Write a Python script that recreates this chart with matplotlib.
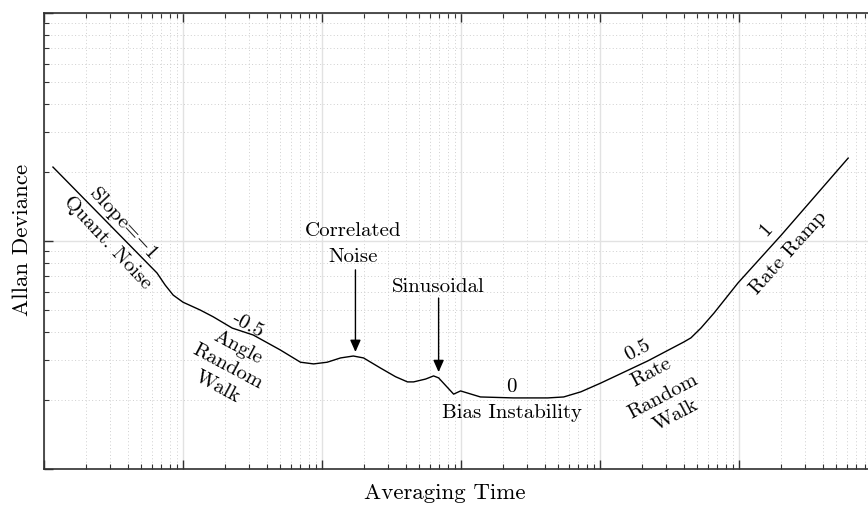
import matplotlib
matplotlib.use("Agg")
import matplotlib.pyplot as plt
import numpy as np
from matplotlib.ticker import LogLocator, NullFormatter

plt.rcParams["font.family"] = ["cmr10", "DejaVu Serif"]
plt.rcParams["mathtext.fontset"] = "cm"
plt.rcParams["axes.unicode_minus"] = False

# ── data ─────────────────────────────────────────────────────────────────────
tau = [1.16, 6.5, 7.44, 8.5, 10.0, 13.3, 16.5, 22.6, 32, 50, 70, 87, 109,
       136, 168, 199, 264, 338, 412, 456, 556, 635, 690, 885, 993, 1380,
       2390, 4210, 5480, 7280, 10100, 22100, 40200, 45100, 53200, 66100,
       98400, 201000, 610000]
adev = [0.211, 0.0724, 0.0641, 0.0579, 0.0539, 0.0498, 0.0465, 0.0415,
        0.0387, 0.0333, 0.0294, 0.0289, 0.0294, 0.0307, 0.0313, 0.0307,
        0.0277, 0.0254, 0.0241, 0.0241, 0.0248, 0.0256, 0.0251, 0.0213,
        0.0220, 0.0207, 0.0205, 0.0205, 0.0207, 0.0218, 0.0238, 0.0298,
        0.0361, 0.0376, 0.0415, 0.0483, 0.0655, 0.106, 0.231]

# (text, x, y, rotation)
labels = [
    ("Slope=$-$1",   3.71,   0.120,  -47),
    ("Quant. Noise", 2.84,   0.098,  -47),
    ("-0.5",         29.5,   0.0428, -28),
    ("Angle",        25.0,   0.0343, -28),
    ("Random",       20.8,   0.0280, -28),
    ("Walk",         17.6,   0.0229, -28),
    ("Correlated",   168,    0.1106, 0),
    ("Noise",        168,    0.0851, 0),
    ("Sinusoidal",   690,    0.0628, 0),
    ("0",            2317,   0.0229, 0),
    ("Bias Instability", 2317, 0.0176, 0),
    ("0.5",          18700,  0.0333, 28),
    ("Rate",         23200,  0.0264, 28),
    ("Random",       28300,  0.0207, 28),
    ("Walk",         35200,  0.0173, 28),
    ("1",            156700, 0.1116, 48),
    ("Rate Ramp",    225000, 0.0886, 48),
]

# (x, y_start, y_tip)
arrows = [
    (174, 0.0747, 0.0326),
    (690, 0.0562, 0.0266),
]

# ── plot ─────────────────────────────────────────────────────────────────────
fig = plt.figure(figsize=(8.68, 5.05), dpi=100)
ax = fig.add_axes([44 / 868, 36 / 505, 834 / 868, 456 / 505])

ax.plot(tau, adev, color="black", lw=1.0)
ax.set_xscale("log")
ax.set_yscale("log")
ax.set_xlim(1, 1e6)
ax.set_ylim(1e-2, 1)

ax.xaxis.set_minor_locator(LogLocator(base=10, subs=np.arange(2, 10)))
ax.yaxis.set_minor_locator(LogLocator(base=10, subs=np.arange(2, 10)))
ax.xaxis.set_minor_formatter(NullFormatter())
ax.yaxis.set_minor_formatter(NullFormatter())
ax.tick_params(which="both", direction="in", top=True, right=False,
               labelleft=False, labelbottom=False, color="#303030")
ax.tick_params(which="major", length=6.5, width=1.0)
ax.tick_params(which="minor", length=3.3, width=0.8)

ax.grid(which="major", color="#e2e2e2", lw=1.0, ls="-")
ax.grid(which="minor", color="#cfcfcf", lw=0.7, ls=(0, (1, 2.5)))
ax.set_axisbelow(True)
for s in ax.spines.values():
    s.set_color("#303030")
    s.set_linewidth(1.2)

for txt, x, y, rot in labels:
    ax.text(x, y, txt, fontsize=15, rotation=rot, ha="center", va="center",
            rotation_mode="anchor")

for x, y0, y1 in arrows:
    ax.annotate("", xy=(x, y1), xytext=(x, y0),
                arrowprops=dict(arrowstyle="-|>,head_length=0.72,head_width=0.32",
                                color="black", lw=1.0, mutation_scale=10,
                                shrinkA=0, shrinkB=0))

fig.text(445 / 868, 1 - 493 / 505, "Averaging Time", fontsize=16.5,
         ha="center", va="center")
fig.text(22 / 868, 1 - 240 / 505, "Allan Deviance", fontsize=16.5,
         ha="center", va="center", rotation=90)

fig.savefig("out.png", dpi=100)
